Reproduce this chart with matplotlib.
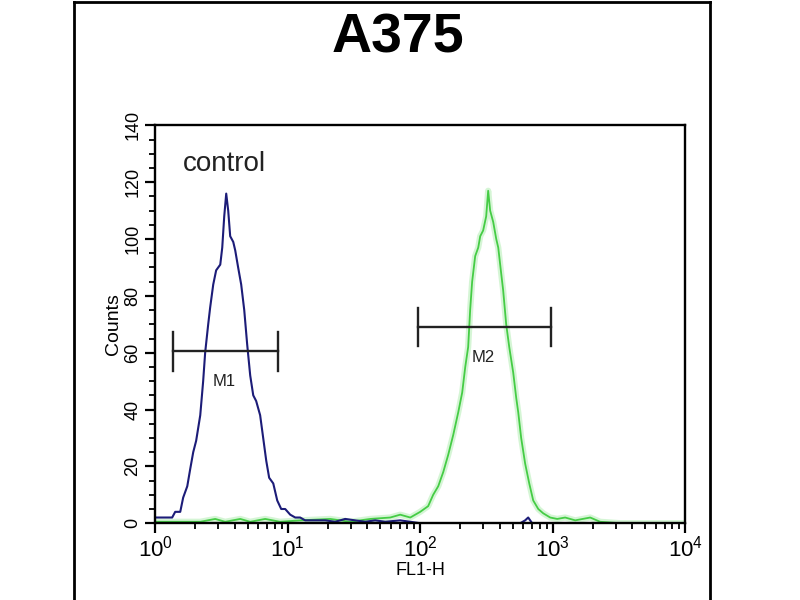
import numpy as np
import matplotlib
matplotlib.use("Agg")
import matplotlib.pyplot as plt
from matplotlib.ticker import LogLocator, LogFormatterSciNotation, MultipleLocator
from matplotlib.lines import Line2D

plt.rcParams["font.family"] = ["Liberation Sans", "DejaVu Sans"]
plt.rcParams["mathtext.fontset"] = "custom"
plt.rcParams["mathtext.rm"] = "Liberation Sans"
plt.rcParams["mathtext.it"] = "Liberation Sans"
plt.rcParams["mathtext.bf"] = "Liberation Sans:bold"

# control histogram (blue): log10(FL1-H) and counts
control_log = [0.000, 0.075, 0.128, 0.151, 0.189, 0.211, 0.242, 0.264, 0.287, 0.309,
               0.340, 0.362, 0.377, 0.400, 0.415, 0.438, 0.460, 0.491, 0.506, 0.521,
               0.536, 0.551, 0.566, 0.589, 0.604, 0.626, 0.649, 0.672, 0.694, 0.717,
               0.740, 0.762, 0.792, 0.815, 0.838, 0.860, 0.891, 0.921, 0.951, 0.981,
               1.019, 1.057, 1.094, 1.132, 1.208, 1.283, 1.358, 1.434, 1.509, 1.585,
               1.660, 1.736, 1.849, 2.000, 2.755, 2.792, 2.815, 2.845, 4.000]
control_counts = [2, 2, 2, 4, 4, 9, 13, 19, 25, 29,
                  38, 50, 60, 70, 76, 84, 89, 91, 97, 108,
                  116, 110, 101, 99, 96, 90, 84, 75, 63, 52,
                  45, 43, 38, 30, 22, 16, 14, 8, 5, 5,
                  3, 2, 2, 1, 1, 1, 0.5, 1.5, 1, 0.5,
                  1, 0.5, 1, 0, 0, 1, 2, 0, 0]

# sample histogram (green)
sample_log = [0.000, 0.340, 0.453, 0.528, 0.642, 0.717, 0.830, 0.943, 1.094, 1.321,
              1.472, 1.623, 1.774, 1.849, 1.925, 2.000, 2.060, 2.098, 2.136, 2.174,
              2.211, 2.249, 2.287, 2.317, 2.340, 2.362, 2.377, 2.392, 2.415, 2.438,
              2.453, 2.475, 2.498, 2.513, 2.528, 2.551, 2.574, 2.589, 2.611, 2.626,
              2.649, 2.672, 2.702, 2.725, 2.740, 2.762, 2.792, 2.823, 2.853, 2.891,
              2.928, 2.981, 3.034, 3.094, 3.170, 3.283, 3.358, 3.509, 4.000]
sample_counts = [0.5, 0.5, 1.5, 0.5, 1.5, 0.5, 1.5, 0.5, 1, 1.5,
                 0.5, 1.5, 2, 3, 2, 4, 6, 10, 13, 18,
                 24, 31, 39, 46, 55, 62, 75, 85, 94, 97,
                 101, 103, 108, 117, 110, 106, 100, 97, 88, 82,
                 70, 62, 53, 44, 39, 30, 21, 14, 8, 5,
                 3.5, 2, 1.5, 2, 1, 2, 0.5, 0, 0]

# gate markers: (name, left, right, level)
markers = [("M1", 1.37, 8.5, 60.5), ("M2", 96.6, 977, 69)]

fig = plt.figure(figsize=(8, 6), dpi=100)
ax = fig.add_axes([0.194, 0.128, 0.6625, 0.663])

bx = 10 ** np.array(control_log)
gx = 10 ** np.array(sample_log)

ax.plot(gx, sample_counts, color="#c4f2c4", lw=4.5, alpha=0.7)
ax.plot(gx, sample_counts, color="#45cc45", lw=1.3)
ax.plot(bx, control_counts, color="#1c1c78", lw=1.5)

for name, lo, hi, lvl in markers:
    ax.plot([lo, hi], [lvl, lvl], color="#222222", lw=1.7)
    ax.plot([lo, lo], [lvl - 6.8, lvl + 6.8], color="#222222", lw=1.7)
    ax.plot([hi, hi], [lvl - 6.8, lvl + 6.8], color="#222222", lw=1.7)
    ax.text(np.sqrt(lo * hi) * 0.98, lvl - 8, name, ha="center", va="top",
            fontsize=12, color="#222222")

ax.text(3.35, 126.5, "control", ha="center", va="center", fontsize=20, color="#222222")

ax.set_xscale("log")
ax.set_xlim(1, 10000)
ax.set_ylim(0, 140)
ax.xaxis.set_major_locator(LogLocator(base=10, numticks=10))
ax.xaxis.set_major_formatter(LogFormatterSciNotation())
ax.xaxis.set_minor_locator(LogLocator(base=10, subs=np.arange(2, 10), numticks=20))
ax.yaxis.set_major_locator(MultipleLocator(20))
ax.yaxis.set_minor_locator(MultipleLocator(5))
ax.tick_params(axis="both", which="major", length=7, width=1.6, direction="out")
ax.tick_params(axis="both", which="minor", length=4, width=1.3, direction="out")
ax.tick_params(axis="x", labelsize=16, pad=2)
ax.tick_params(axis="y", labelsize=13, labelrotation=90, pad=3)
for lbl in ax.get_yticklabels():
    lbl.set_va("center")
for s in ax.spines.values():
    s.set_linewidth(1.7)

ax.set_xlabel("FL1-H", fontsize=13, labelpad=0)
ax.set_ylabel("Counts", fontsize=14, labelpad=2)

fig.text(0.4975, 0.936, "A375", ha="center", va="center", fontsize=40, fontweight="bold")

# outer frame of the panel
frame = dict(color="black", lw=2, transform=fig.transFigure)
fig.add_artist(Line2D([0.092, 0.092], [-0.01, 0.997], **frame))
fig.add_artist(Line2D([0.887, 0.887], [-0.01, 0.997], **frame))
fig.add_artist(Line2D([0.092, 0.887], [0.997, 0.997], **frame))

fig.savefig("out.png", dpi=100)
